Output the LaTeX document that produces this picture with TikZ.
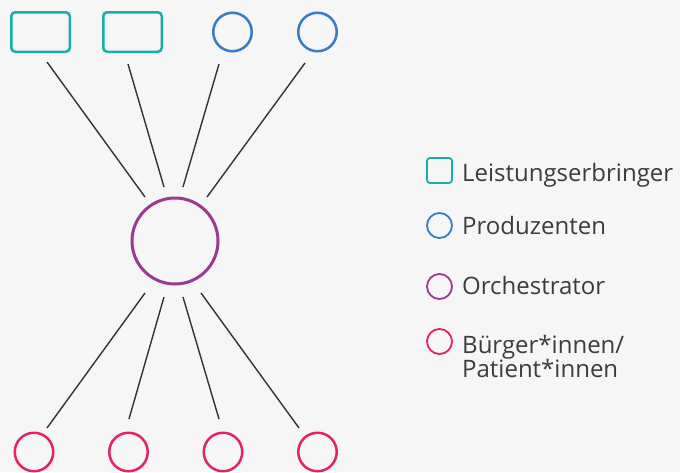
\documentclass[tikz,border=0pt]{standalone}
\usepackage{fontspec}
\setmainfont{Open Sans}
\usepackage{xcolor}

\definecolor{bgGray}{HTML}{F6F6F6}
\definecolor{provTeal}{HTML}{17ADA8}
\definecolor{prodBlue}{HTML}{3A7BC5}
\definecolor{orchPurple}{HTML}{9A3A90}
\definecolor{citPink}{HTML}{E3245E}
\definecolor{linkGray}{HTML}{333333}
\definecolor{textGray}{HTML}{3C3C3C}

\begin{document}
\begin{tikzpicture}[x=1pt, y=-1pt,
    provider/.style={draw=provTeal, line width=2.5pt, rounded corners=4pt,
      minimum width=58.5pt, minimum height=39.5pt, inner sep=0pt},
    producer/.style={circle, draw=prodBlue, line width=2.5pt,
      minimum size=38.5pt, inner sep=0pt},
    hub/.style={circle, draw=orchPurple, line width=3pt,
      minimum size=86pt, inner sep=0pt},
    citizen/.style={circle, draw=citPink, line width=2.5pt,
      minimum size=38.5pt, inner sep=0pt},
    link/.style={draw=linkGray, line width=1.4pt},
    keybox/.style={line width=1.8pt, minimum width=25pt, minimum height=25pt,
      minimum size=25pt, rounded corners=3pt},
    keytext/.style={anchor=base west, inner sep=0pt, text=textGray,
      align=left, font=\fontsize{24}{24}\selectfont}]
  \fill[bgGray] (0,0) rectangle (680,472);
  \useasboundingbox (0,0) rectangle (680,472);

  \node[provider] (p1) at (40.5,32) {};
  \node[provider] (p2) at (132.5,32) {};
  \node[producer] (q1) at (232.5,32) {};
  \node[producer] (q2) at (317.5,32) {};
  \node[hub] (orch) at (175,241) {};
  \node[citizen] (c1) at (34,452) {};
  \node[citizen] (c2) at (128.5,452) {};
  \node[citizen] (c3) at (223,452) {};
  \node[citizen] (c4) at (317.5,452) {};

  % spokes, kept clear of the shapes
  \coordinate (u1) at (47,62);   \coordinate (v1) at (145,197);
  \coordinate (u2) at (128,64);  \coordinate (v2) at (164,187);
  \coordinate (u3) at (219,64);  \coordinate (v3) at (183,187);
  \coordinate (u4) at (305,63);  \coordinate (v4) at (207,197);
  \coordinate (w1) at (145,293); \coordinate (z1) at (47,428);
  \coordinate (w2) at (164,297); \coordinate (z2) at (129,419);
  \coordinate (w3) at (183,297); \coordinate (z3) at (219,419);
  \coordinate (w4) at (201,293); \coordinate (z4) at (299,428);
  \foreach \i in {1,...,4} {
    \draw[link] (u\i) -- (v\i);
    \draw[link] (w\i) -- (z\i);
  }

  % legend
  \node[provider, keybox] (k1) at (439.5,170.5) {};
  \node[producer, keybox] (k2) at (439.5,225.5) {};
  \node[hub, keybox] (k3) at (439.5,286.5) {};
  \node[citizen, keybox] (k4) at (439.5,341.5) {};
  \node[keytext] (l1) at (462,181.5) {Leistungserbringer};
  \node[keytext] (l2) at (462,234) {Produzenten};
  \node[keytext] (l3) at (462,294.5) {Orchestrator};
  % base of a two-line node is its last line
  \node[keytext] (l4) at (462,377) {Bürger*innen/\\Patient*innen};
\end{tikzpicture}
\end{document}
